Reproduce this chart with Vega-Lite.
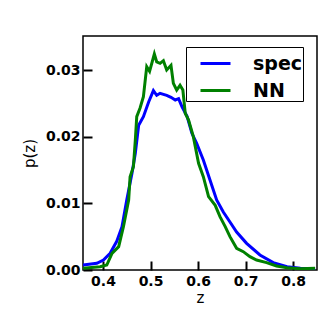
{
  "$schema": "https://vega.github.io/schema/vega-lite/v6.json",
  "width": 234,
  "height": 234,
  "autosize": {"type": "none"},
  "padding": {"left": 83, "top": 36, "right": 17, "bottom": 64},
  "background": "white",
  "config": {
    "font": "DejaVu Sans",
    "view": {"stroke": "black", "strokeWidth": 1.5},
    "axis": {"grid": false, "domain": false}
  },
  "data": {
    "values": [
      {"z": 0.358, "p": 0.00075, "s": "spec"},
      {"z": 0.387, "p": 0.001, "s": "spec"},
      {"z": 0.401, "p": 0.0015, "s": "spec"},
      {"z": 0.415, "p": 0.0025, "s": "spec"},
      {"z": 0.429, "p": 0.0043, "s": "spec"},
      {"z": 0.44, "p": 0.0065, "s": "spec"},
      {"z": 0.45, "p": 0.0105, "s": "spec"},
      {"z": 0.461, "p": 0.0145, "s": "spec"},
      {"z": 0.468, "p": 0.0175, "s": "spec"},
      {"z": 0.475, "p": 0.0217, "s": "spec"},
      {"z": 0.485, "p": 0.023, "s": "spec"},
      {"z": 0.496, "p": 0.0252, "s": "spec"},
      {"z": 0.506, "p": 0.0269, "s": "spec"},
      {"z": 0.513, "p": 0.0262, "s": "spec"},
      {"z": 0.52, "p": 0.0265, "s": "spec"},
      {"z": 0.534, "p": 0.0262, "s": "spec"},
      {"z": 0.543, "p": 0.0259, "s": "spec"},
      {"z": 0.552, "p": 0.0255, "s": "spec"},
      {"z": 0.559, "p": 0.0257, "s": "spec"},
      {"z": 0.566, "p": 0.0245, "s": "spec"},
      {"z": 0.577, "p": 0.023, "s": "spec"},
      {"z": 0.587, "p": 0.0205, "s": "spec"},
      {"z": 0.597, "p": 0.019, "s": "spec"},
      {"z": 0.611, "p": 0.0165, "s": "spec"},
      {"z": 0.625, "p": 0.0135, "s": "spec"},
      {"z": 0.639, "p": 0.0105, "s": "spec"},
      {"z": 0.653, "p": 0.0087, "s": "spec"},
      {"z": 0.667, "p": 0.0072, "s": "spec"},
      {"z": 0.681, "p": 0.0057, "s": "spec"},
      {"z": 0.702, "p": 0.004, "s": "spec"},
      {"z": 0.73, "p": 0.00225, "s": "spec"},
      {"z": 0.758, "p": 0.0011, "s": "spec"},
      {"z": 0.787, "p": 0.0005, "s": "spec"},
      {"z": 0.815, "p": 0.00025, "s": "spec"},
      {"z": 0.846, "p": 0.00015, "s": "spec"},
      {"z": 0.358, "p": 0.00025, "s": "NN"},
      {"z": 0.394, "p": 0.0005, "s": "NN"},
      {"z": 0.408, "p": 0.00075, "s": "NN"},
      {"z": 0.419, "p": 0.0025, "s": "NN"},
      {"z": 0.433, "p": 0.0035, "s": "NN"},
      {"z": 0.443, "p": 0.0065, "s": "NN"},
      {"z": 0.454, "p": 0.0105, "s": "NN"},
      {"z": 0.457, "p": 0.014, "s": "NN"},
      {"z": 0.464, "p": 0.0155, "s": "NN"},
      {"z": 0.468, "p": 0.0195, "s": "NN"},
      {"z": 0.471, "p": 0.023, "s": "NN"},
      {"z": 0.478, "p": 0.0243, "s": "NN"},
      {"z": 0.485, "p": 0.026, "s": "NN"},
      {"z": 0.492, "p": 0.0305, "s": "NN"},
      {"z": 0.498, "p": 0.0298, "s": "NN"},
      {"z": 0.508, "p": 0.0324, "s": "NN"},
      {"z": 0.513, "p": 0.0312, "s": "NN"},
      {"z": 0.52, "p": 0.031, "s": "NN"},
      {"z": 0.527, "p": 0.0314, "s": "NN"},
      {"z": 0.534, "p": 0.03, "s": "NN"},
      {"z": 0.543, "p": 0.0307, "s": "NN"},
      {"z": 0.548, "p": 0.028, "s": "NN"},
      {"z": 0.555, "p": 0.027, "s": "NN"},
      {"z": 0.562, "p": 0.0277, "s": "NN"},
      {"z": 0.568, "p": 0.027, "s": "NN"},
      {"z": 0.573, "p": 0.0235, "s": "NN"},
      {"z": 0.58, "p": 0.0225, "s": "NN"},
      {"z": 0.59, "p": 0.02, "s": "NN"},
      {"z": 0.601, "p": 0.016, "s": "NN"},
      {"z": 0.611, "p": 0.014, "s": "NN"},
      {"z": 0.622, "p": 0.011, "s": "NN"},
      {"z": 0.636, "p": 0.0097, "s": "NN"},
      {"z": 0.646, "p": 0.008, "s": "NN"},
      {"z": 0.657, "p": 0.0065, "s": "NN"},
      {"z": 0.667, "p": 0.005, "s": "NN"},
      {"z": 0.681, "p": 0.00325, "s": "NN"},
      {"z": 0.695, "p": 0.00275, "s": "NN"},
      {"z": 0.709, "p": 0.002, "s": "NN"},
      {"z": 0.723, "p": 0.0015, "s": "NN"},
      {"z": 0.744, "p": 0.0011, "s": "NN"},
      {"z": 0.765, "p": 0.0006, "s": "NN"},
      {"z": 0.787, "p": 0.00035, "s": "NN"},
      {"z": 0.815, "p": 0.0002, "s": "NN"},
      {"z": 0.846, "p": 0.00025, "s": "NN"}
    ]
  },
  "mark": {"type": "line", "strokeWidth": 3, "clip": true},
  "encoding": {
    "x": {
      "field": "z", "type": "quantitative",
      "scale": {"domain": [0.358, 0.85], "nice": false, "zero": false},
      "axis": {
        "title": "z", "values": [0.4, 0.5, 0.6, 0.7, 0.8], "format": ".1f",
        "tickSize": -9, "tickWidth": 2, "tickColor": "black",
        "labelFontSize": 14, "labelFontWeight": "bold", "labelColor": "black", "labelPadding": 13,
        "titleFontSize": 15, "titleFontWeight": "normal", "titleColor": "black", "titlePadding": 2
      }
    },
    "y": {
      "field": "p", "type": "quantitative",
      "scale": {"domain": [0, 0.0351], "nice": false},
      "axis": {
        "title": "p(z)", "values": [0, 0.01, 0.02, 0.03], "format": ".2f",
        "tickSize": -9, "tickWidth": 2, "tickColor": "black",
        "labelFontSize": 14, "labelFontWeight": "bold", "labelColor": "black", "labelPadding": 12,
        "titleFontSize": 15, "titleFontWeight": "normal", "titleColor": "black", "titlePadding": 8
      }
    },
    "color": {
      "field": "s", "type": "nominal",
      "scale": {"domain": ["spec", "NN"], "range": ["#0000ff", "#008000"]},
      "legend": {
        "title": null, "orient": "none", "legendX": 103, "legendY": 11,
        "symbolType": "stroke", "symbolSize": 900, "symbolStrokeWidth": 3, "symbolOffset": 13,
        "labelFontSize": 19, "labelFontWeight": "bold", "labelColor": "black", "labelOffset": 21,
        "labelExpr": "datum.label + ' '",
        "strokeColor": "black", "fillColor": "white", "padding": 0, "rowPadding": -2,
        "cornerRadius": 0
      }
    }
  }
}
